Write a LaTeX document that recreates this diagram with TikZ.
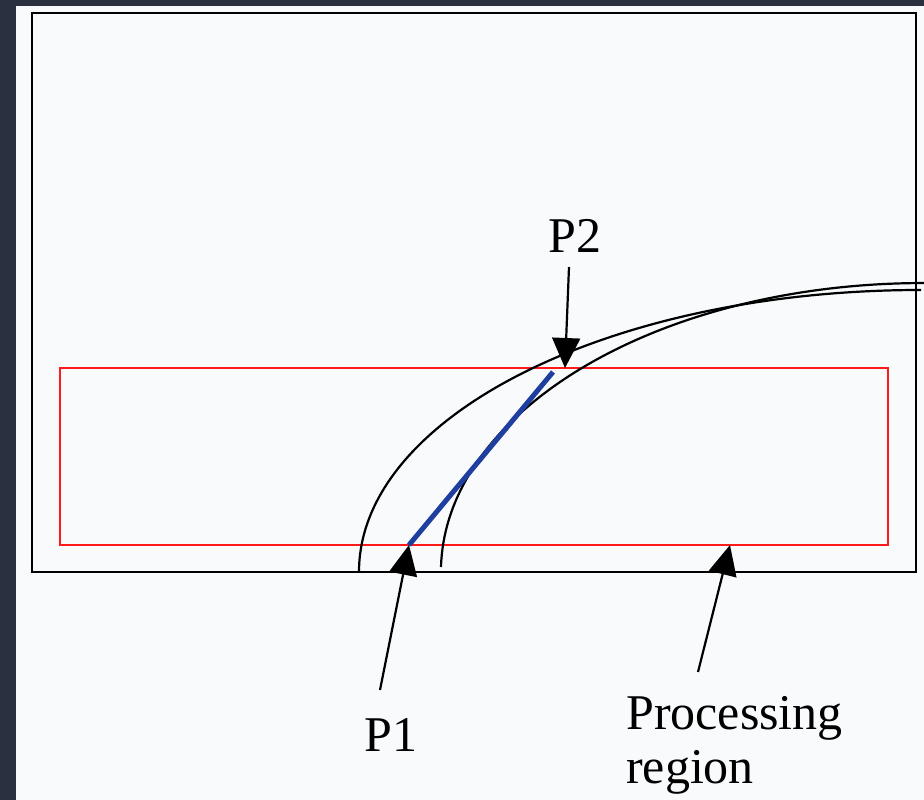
\documentclass[tikz,border=0pt]{standalone}
\usepackage{fontspec}
\setmainfont{Liberation Serif}
\usepackage{xcolor}
\usetikzlibrary{arrows.meta,positioning}

\definecolor{bgdark}{HTML}{2B3040}
\definecolor{paper}{HTML}{F8FAFC}
\definecolor{regred}{HTML}{FF1A1A}
\definecolor{chordblue}{HTML}{1F3FA0}

\begin{document}
\begin{tikzpicture}[x=1pt,y=1pt,
  frame/.style={draw=black, line width=2.2pt},
  region/.style={draw=regred, line width=2.2pt},
  track/.style={draw=black, line width=2.2pt},
  chord/.style={draw=chordblue, line width=5pt},
  arr/.style={-{Triangle[length=30pt,width=28pt]}, line width=2.2pt},
  lbl/.style={font=\fontsize{50}{54}\selectfont, inner sep=0pt}]

% Page and background
\useasboundingbox (0,0) rectangle (924,800);
\fill[bgdark] (0,0) rectangle (924,800);
\fill[paper] (16,0) rectangle (924,794);

% Outer frame and processing region
\draw[frame] (32,228) rectangle (916,787);
\draw[region] (60,255) rectangle (888,432);

% The two tracks
\draw[track] (359,228) arc[start angle=180, end angle=90,
  x radius=562, y radius=282];
\draw[track] (441,233) arc[start angle=179, end angle=90,
  x radius=483, y radius=289];

% Chord between the crossing points
\coordinate (p1) at (409,255);
\coordinate (p2) at (565,432);
\coordinate (p2end) at (553,428);
\draw[chord] (p1) -- (p2end);

% Labels
\node[lbl, anchor=base] (p2lbl) at (575,547) {P2};
\node[lbl, anchor=base] (p1lbl) at (391,48) {P1};
\node[lbl, anchor=north west, align=left] (reglbl) at (626,104)
  {Processing\\region};

% Pointers
\coordinate (p2tail) at (569,533);
\coordinate (p1tail) at (380,110);
\coordinate (regtail) at (698,128);
\coordinate (regtip) at (730,255);
\draw[arr] (p2tail) -- (p2);
\draw[arr] (p1tail) -- (p1);
\draw[arr] (regtail) -- (regtip);

\end{tikzpicture}
\end{document}
